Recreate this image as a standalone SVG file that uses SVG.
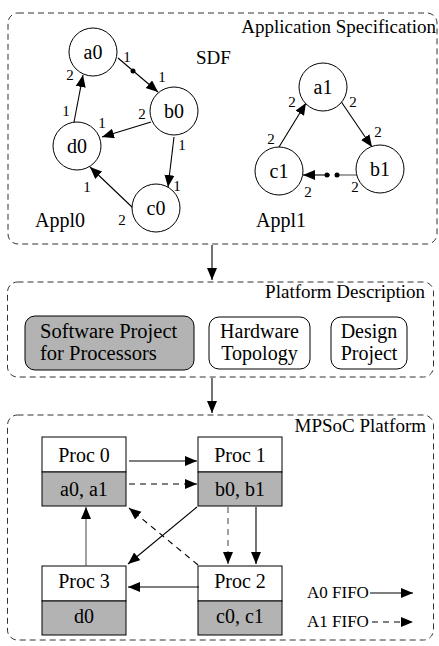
<svg xmlns="http://www.w3.org/2000/svg" width="439" height="646" viewBox="0 0 439 646" font-family="'Liberation Serif', 'DejaVu Serif', serif">
<defs>
<marker id="ah" markerUnits="userSpaceOnUse" markerWidth="13" markerHeight="11" refX="12" refY="5" orient="auto">
<path d="M0,0 L12,5 L0,10 z" fill="#000"/>
</marker>
<style>
text{font-family:'Liberation Serif','DejaVu Serif',serif;fill:#000}
.frame{fill:none;stroke:#333;stroke-width:1;stroke-dasharray:6,4}
.hdr{font-size:19px;text-anchor:end}
.node{fill:#fff;stroke:#000;stroke-width:1}
.nl{font-size:20px;text-anchor:middle}
.el{font-size:15px;text-anchor:middle}
.e{fill:none;stroke:#000;stroke-width:1.1;marker-end:url(#ah)}
.d{stroke-dasharray:6,5}
.g{stroke:#555}
.box{fill:#fff;stroke:#000;stroke-width:1}
.gray{fill:#b3b3b3;stroke:#000;stroke-width:1}
.bt{font-size:20px;text-anchor:middle}
.dot{fill:#000}
</style>
</defs>
<rect fill="#fff" x="0" y="0" width="439" height="646"/>

<g id="app-spec">
<rect class="frame" x="8" y="13" width="429" height="231" rx="10"/>
<text class="hdr" x="436" y="33">Application Specification</text>
<text x="196" y="64" font-size="19">SDF</text>
<text x="35" y="227" font-size="20">Appl0</text>
<text x="256" y="227" font-size="20">Appl1</text>
</g>

<g id="connectors-sdf">
<line class="e" x1="118" y1="58" x2="158" y2="92"/>
<circle class="dot" cx="133" cy="71" r="2.5"/>
<line class="e" x1="151" y1="122" x2="102" y2="137"/>
<line class="e" x1="174" y1="137" x2="168" y2="187"/>
<line class="e" x1="133" y1="208" x2="90" y2="167"/>
<line class="e" x1="74" y1="122" x2="83" y2="75"/>
<line class="e" x1="340" y1="100" x2="372" y2="147"/>
<line stroke="#555" stroke-width="1.1" x1="357" y1="175" x2="336" y2="175"/>
<line class="e" x1="330" y1="175" x2="303" y2="175"/>
<circle class="dot" cx="327" cy="175" r="2.5"/>
<circle class="dot" cx="337" cy="175" r="2.5"/>
<line class="e" x1="279" y1="147" x2="306" y2="103"/>
<text class="el" x="127" y="62">1</text>
<text class="el" x="162" y="82">1</text>
<text class="el" x="70" y="80">2</text>
<text class="el" x="66" y="116">1</text>
<text class="el" x="142" y="119">2</text>
<text class="el" x="102" y="128">1</text>
<text class="el" x="182" y="150">1</text>
<text class="el" x="177" y="191">1</text>
<text class="el" x="87" y="192">1</text>
<text class="el" x="122" y="225">2</text>
<text class="el" x="292" y="107">2</text>
<text class="el" x="353" y="107">2</text>
<text class="el" x="378" y="137">2</text>
<text class="el" x="271" y="144">2</text>
<text class="el" x="355" y="192">2</text>
<text class="el" x="308" y="197">2</text>
</g>

<g id="a0"><circle class="node" cx="93" cy="52" r="24"/><text class="nl" x="93" y="59">a0</text></g>
<g id="b0"><circle class="node" cx="174" cy="111" r="24"/><text class="nl" x="174" y="118">b0</text></g>
<g id="d0"><circle class="node" cx="77" cy="146" r="24"/><text class="nl" x="77" y="153">d0</text></g>
<g id="c0"><circle class="node" cx="156" cy="208" r="24"/><text class="nl" x="156" y="215">c0</text></g>
<g id="a1"><circle class="node" cx="323" cy="87" r="24"/><text class="nl" x="323" y="94">a1</text></g>
<g id="b1"><circle class="node" cx="380" cy="169" r="24"/><text class="nl" x="380" y="176">b1</text></g>
<g id="c1"><circle class="node" cx="279" cy="171" r="24"/><text class="nl" x="279" y="178">c1</text></g>

<g id="connectors-flow">
<line class="e" x1="212" y1="245" x2="212" y2="280"/>
<line class="e" x1="212" y1="378" x2="212" y2="413"/>
</g>

<g id="platform-desc">
<rect class="frame" x="7.5" y="282" width="426" height="95" rx="10"/>
<text class="hdr" x="425" y="298">Platform Description</text>
</g>
<g id="sw-project">
<rect class="gray" x="25" y="316" width="169" height="54" rx="10"/>
<text x="40" y="338" font-size="20.5">Software Project</text>
<text x="40" y="360" font-size="20.5">for Processors</text>
</g>
<g id="hw-topology">
<rect class="box" x="209" y="317" width="101" height="52" rx="10"/>
<text class="bt" x="259.5" y="338">Hardware</text>
<text class="bt" x="259.5" y="360">Topology</text>
</g>
<g id="design-project">
<rect class="box" x="331" y="317" width="76" height="52" rx="10"/>
<text class="bt" x="369" y="338">Design</text>
<text class="bt" x="369" y="360">Project</text>
</g>

<g id="mpsoc">
<rect class="frame" x="7.5" y="415" width="426" height="225" rx="10"/>
<text class="hdr" x="426" y="432">MPSoC Platform</text>
</g>

<g id="proc0">
<rect class="box" x="42" y="437" width="84" height="35"/>
<rect class="gray" x="42" y="472" width="84" height="34"/>
<text class="bt" x="84" y="462">Proc 0</text>
<text class="bt" x="84" y="496">a0, a1</text>
</g>
<g id="proc1">
<rect class="box" x="198" y="437" width="84" height="35"/>
<rect class="gray" x="198" y="472" width="84" height="34"/>
<text class="bt" x="240" y="462">Proc 1</text>
<text class="bt" x="240" y="496">b0, b1</text>
</g>
<g id="proc3">
<rect class="box" x="42" y="566" width="84" height="35"/>
<rect class="gray" x="42" y="601" width="84" height="34"/>
<text class="bt" x="84" y="588">Proc 3</text>
<text class="bt" x="84" y="623">d0</text>
</g>
<g id="proc2">
<rect class="box" x="198" y="566" width="84" height="35"/>
<rect class="gray" x="198" y="601" width="84" height="34"/>
<text class="bt" x="240" y="588">Proc 2</text>
<text class="bt" x="240" y="623">c0, c1</text>
</g>

<g id="connectors-mpsoc">
<line class="e" x1="129" y1="461" x2="197" y2="461"/>
<line class="e d" x1="129" y1="484" x2="197" y2="484"/>
<line class="e" x1="197" y1="507" x2="128" y2="564"/>
<line class="e d" x1="198" y1="565" x2="129" y2="508"/>
<line class="e d g" x1="228" y1="507" x2="228" y2="564"/>
<line class="e" x1="256" y1="507" x2="256" y2="564"/>
<line class="e" x1="199" y1="587" x2="128" y2="587"/>
<line class="e g" x1="86" y1="566" x2="86" y2="507"/>
</g>

<g id="legend">
<text x="307" y="598" font-size="17">A0 FIFO</text>
<line class="e" x1="370" y1="593" x2="413" y2="593"/>
<text x="307" y="627" font-size="17">A1 FIFO</text>
<line class="e d" x1="372" y1="622" x2="413" y2="622"/>
</g>
</svg>
